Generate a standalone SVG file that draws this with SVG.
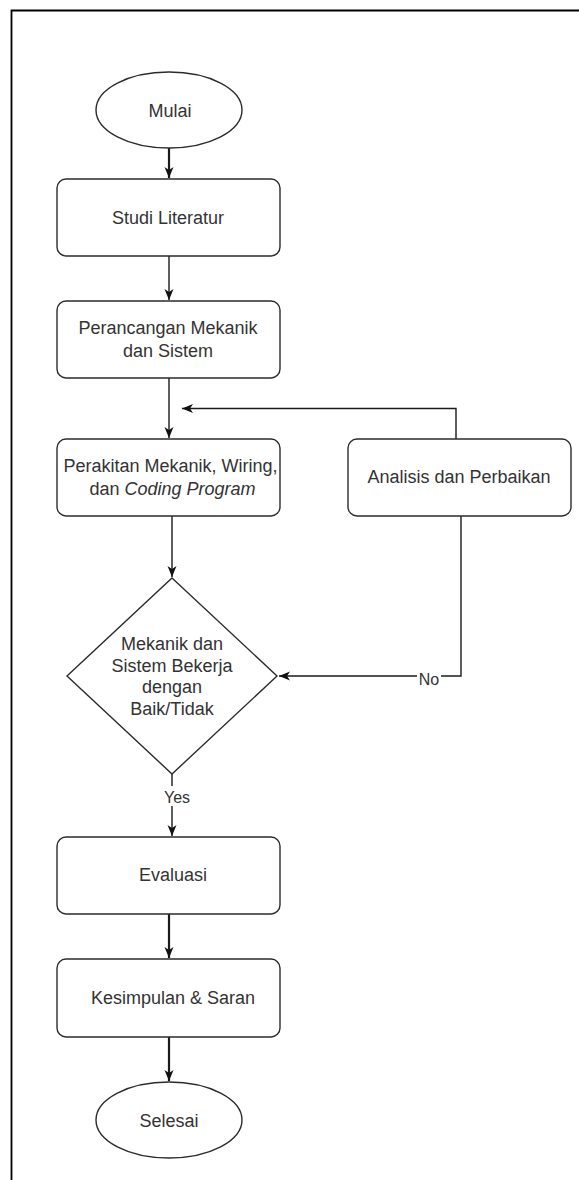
<svg xmlns="http://www.w3.org/2000/svg" width="579" height="1180" viewBox="0 0 579 1180">
  <defs>
    <style>
      .shape { fill: #ffffff; stroke: #2b2b2b; stroke-width: 1.4; }
      .lbl { font-family: "Liberation Sans", Arial, Helvetica, sans-serif; font-size: 18px; fill: #333333; text-anchor: middle; }
      .elbl { font-family: "Liberation Sans", Arial, Helvetica, sans-serif; font-size: 16px; fill: #333333; text-anchor: middle; }
      .edge { fill: none; stroke: #1a1a1a; stroke-width: 1.4; marker-end: url(#arrow); }
      .edge.thick { stroke-width: 2.2; }
      .plain { fill: none; stroke: #1a1a1a; stroke-width: 1.4; }
    </style>
    <marker id="arrow" markerUnits="userSpaceOnUse" markerWidth="12" markerHeight="10" refX="11" refY="5" orient="auto">
      <path d="M0,0.5 L11,5 L0,9.5 L3,5 z" fill="#111111"/>
    </marker>
  </defs>

  <rect width="579" height="1180" fill="#ffffff"/>
  <path d="M11.5,1180 V10.5 H579" fill="none" stroke="#000000" stroke-width="1.8"/>

  <g id="connectors">
    <path class="edge thick" d="M169,148 V178"/>
    <path class="edge" d="M169,256 V300"/>
    <path class="edge" d="M169,378 V438"/>
    <path class="edge" d="M456,439 V408.5 H182"/>
    <path class="edge" d="M172,516 V577"/>
    <path class="edge" d="M461,516 V676 H279"/>
    <path class="edge" d="M172,774 V836"/>
    <path class="edge thick" d="M169,914 V958"/>
    <path class="edge thick" d="M169,1037 V1081"/>
    <g id="label-no">
      <rect x="417" y="668" width="24" height="18" fill="#ffffff"/>
      <text class="elbl" x="429" y="685">No</text>
    </g>
    <g id="label-yes">
      <rect x="162" y="786" width="30" height="20" fill="#ffffff"/>
      <text class="elbl" x="177" y="803">Yes</text>
    </g>
  </g>

  <g id="mulai">
    <ellipse class="shape" cx="169" cy="110" rx="73" ry="38"/>
    <text class="lbl" x="170" y="117">Mulai</text>
  </g>

  <g id="studi-literatur">
    <rect class="shape" x="57" y="179" width="223" height="77" rx="9"/>
    <text class="lbl" x="168" y="224">Studi Literatur</text>
  </g>

  <g id="perancangan">
    <rect class="shape" x="57" y="301" width="223" height="77" rx="9"/>
    <text class="lbl" x="168" y="334">Perancangan Mekanik</text>
    <text class="lbl" x="168" y="357">dan Sistem</text>
  </g>

  <g id="perakitan">
    <rect class="shape" x="57" y="439" width="223" height="77" rx="9"/>
    <text class="lbl" x="170.5" y="472">Perakitan Mekanik, Wiring,</text>
    <text class="lbl" x="172.5" y="495">dan <tspan font-style="italic">Coding Program</tspan></text>
  </g>

  <g id="analisis">
    <rect class="shape" x="348" y="439" width="223" height="77" rx="9"/>
    <text class="lbl" x="459" y="483">Analisis dan Perbaikan</text>
  </g>

  <g id="keputusan">
    <polygon class="shape" points="172,578 277,676 172,774 67,676"/>
    <text class="lbl" x="172" y="650">Mekanik dan</text>
    <text class="lbl" x="172" y="672">Sistem Bekerja</text>
    <text class="lbl" x="172" y="693">dengan</text>
    <text class="lbl" x="172" y="715">Baik/Tidak</text>
  </g>

  <g id="evaluasi">
    <rect class="shape" x="57" y="837" width="223" height="77" rx="9"/>
    <text class="lbl" x="173" y="881">Evaluasi</text>
  </g>

  <g id="kesimpulan">
    <rect class="shape" x="57" y="959" width="223" height="78" rx="9"/>
    <text class="lbl" x="173" y="1004">Kesimpulan &amp; Saran</text>
  </g>

  <g id="selesai">
    <ellipse class="shape" cx="169" cy="1120" rx="73" ry="38"/>
    <text class="lbl" x="169" y="1127">Selesai</text>
  </g>
</svg>
